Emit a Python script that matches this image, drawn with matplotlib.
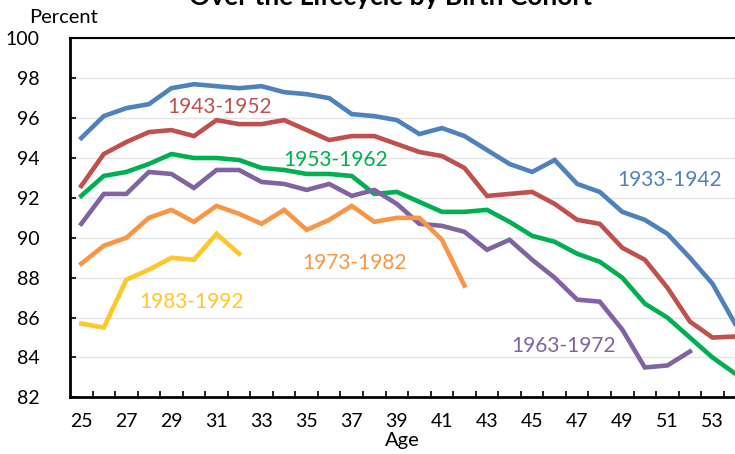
import numpy as np
import matplotlib.pyplot as plt

plt.rcParams['font.family'] = ['Lato', 'DejaVu Sans']

# share (percent) by age, one list per birth cohort
ages = list(range(25, 55))

c1933 = [95.0, 96.1, 96.5, 96.7, 97.5, 97.7, 97.6, 97.5, 97.6, 97.3,
         97.2, 97.0, 96.2, 96.1, 95.9, 95.2, 95.5, 95.1, 94.4, 93.7,
         93.3, 93.9, 92.7, 92.3, 91.3, 90.9, 90.2, 89.0, 87.7, 85.7]
c1943 = [92.6, 94.2, 94.8, 95.3, 95.4, 95.1, 95.9, 95.7, 95.7, 95.9,
         95.4, 94.9, 95.1, 95.1, 94.7, 94.3, 94.1, 93.5, 92.1, 92.2,
         92.3, 91.7, 90.9, 90.7, 89.5, 88.9, 87.5, 85.8, 85.0, 85.05]
c1953 = [92.1, 93.1, 93.3, 93.7, 94.2, 94.0, 94.0, 93.9, 93.5, 93.4,
         93.2, 93.2, 93.1, 92.2, 92.3, 91.8, 91.3, 91.3, 91.4, 90.8,
         90.1, 89.8, 89.2, 88.8, 88.0, 86.7, 86.0, 85.0, 84.0, 83.2]
c1963 = [90.7, 92.2, 92.2, 93.3, 93.2, 92.5, 93.4, 93.4, 92.8, 92.7,
         92.4, 92.7, 92.1, 92.4, 91.7, 90.7, 90.6, 90.3, 89.4, 89.9,
         88.9, 88.0, 86.9, 86.8, 85.4, 83.5, 83.6, 84.3]
c1973 = [88.7, 89.6, 90.0, 91.0, 91.4, 90.8, 91.6, 91.2, 90.7, 91.4,
         90.4, 90.9, 91.6, 90.8, 91.0, 91.0, 89.9, 87.6]
c1983 = [85.7, 85.5, 87.9, 88.4, 89.0, 88.9, 90.2, 89.2]

cohorts = ['1933-1942', '1943-1952', '1953-1962', '1963-1972', '1973-1982', '1983-1992']
series = [c1933, c1943, c1953, c1963, c1973, c1983]
colors = ['#4F81BD', '#C0504D', '#00B050', '#8064A2', '#F79646', '#FFC72C']
# where each cohort name sits (age, percent)
label_pos = [(51.1, 92.9), (31.15, 96.55), (36.3, 93.9), (46.4, 84.6), (37.1, 88.75), (29.9, 86.8)]

fig = plt.figure(figsize=(7.35, 4.54), dpi=100)
ax = fig.add_axes([0.0952, 0.1247, 0.9048, 0.7909])

for name, vals, col, (lx, ly) in zip(cohorts, series, colors, label_pos):
    ax.plot(ages[:len(vals)], vals, color=col, lw=3.3, solid_joinstyle='miter', zorder=3)
    ax.text(lx, ly, name, color=col, fontsize=15, ha='center', va='center')

ax.set_xlim(24.5, 54.0)
ax.set_ylim(82, 100)
ax.set_yticks(np.arange(82, 101, 2))
ax.set_xticks(np.arange(25, 54, 2))
ax.set_xticks(np.arange(25.5, 54, 1), minor=True)
ax.tick_params(axis='x', which='major', length=0, pad=11, labelsize=14)
ax.tick_params(axis='x', which='minor', direction='in', length=4, width=1.2)
ax.tick_params(axis='y', direction='in', length=4, width=1.2, pad=22, labelsize=14)
ax.grid(axis='y', color='#e4e4e4', lw=1, zorder=0)

ax.spines['right'].set_visible(False)
ax.spines['left'].set_linewidth(2)
ax.spines['bottom'].set_linewidth(2)
ax.spines['top'].set_linewidth(1.5)

ax.set_xlabel('Age', fontsize=14.5, va='center')
ax.xaxis.set_label_coords(0.5, -0.121)
fig.text(0.039, 0.962, 'Percent', fontsize=14.5, ha='left', va='center')
fig.text(0.532, 0.988, 'Over the Lifecycle by Birth Cohort', fontsize=19,
         fontweight='bold', ha='center', va='baseline')

fig.savefig('out.png', dpi=100)
